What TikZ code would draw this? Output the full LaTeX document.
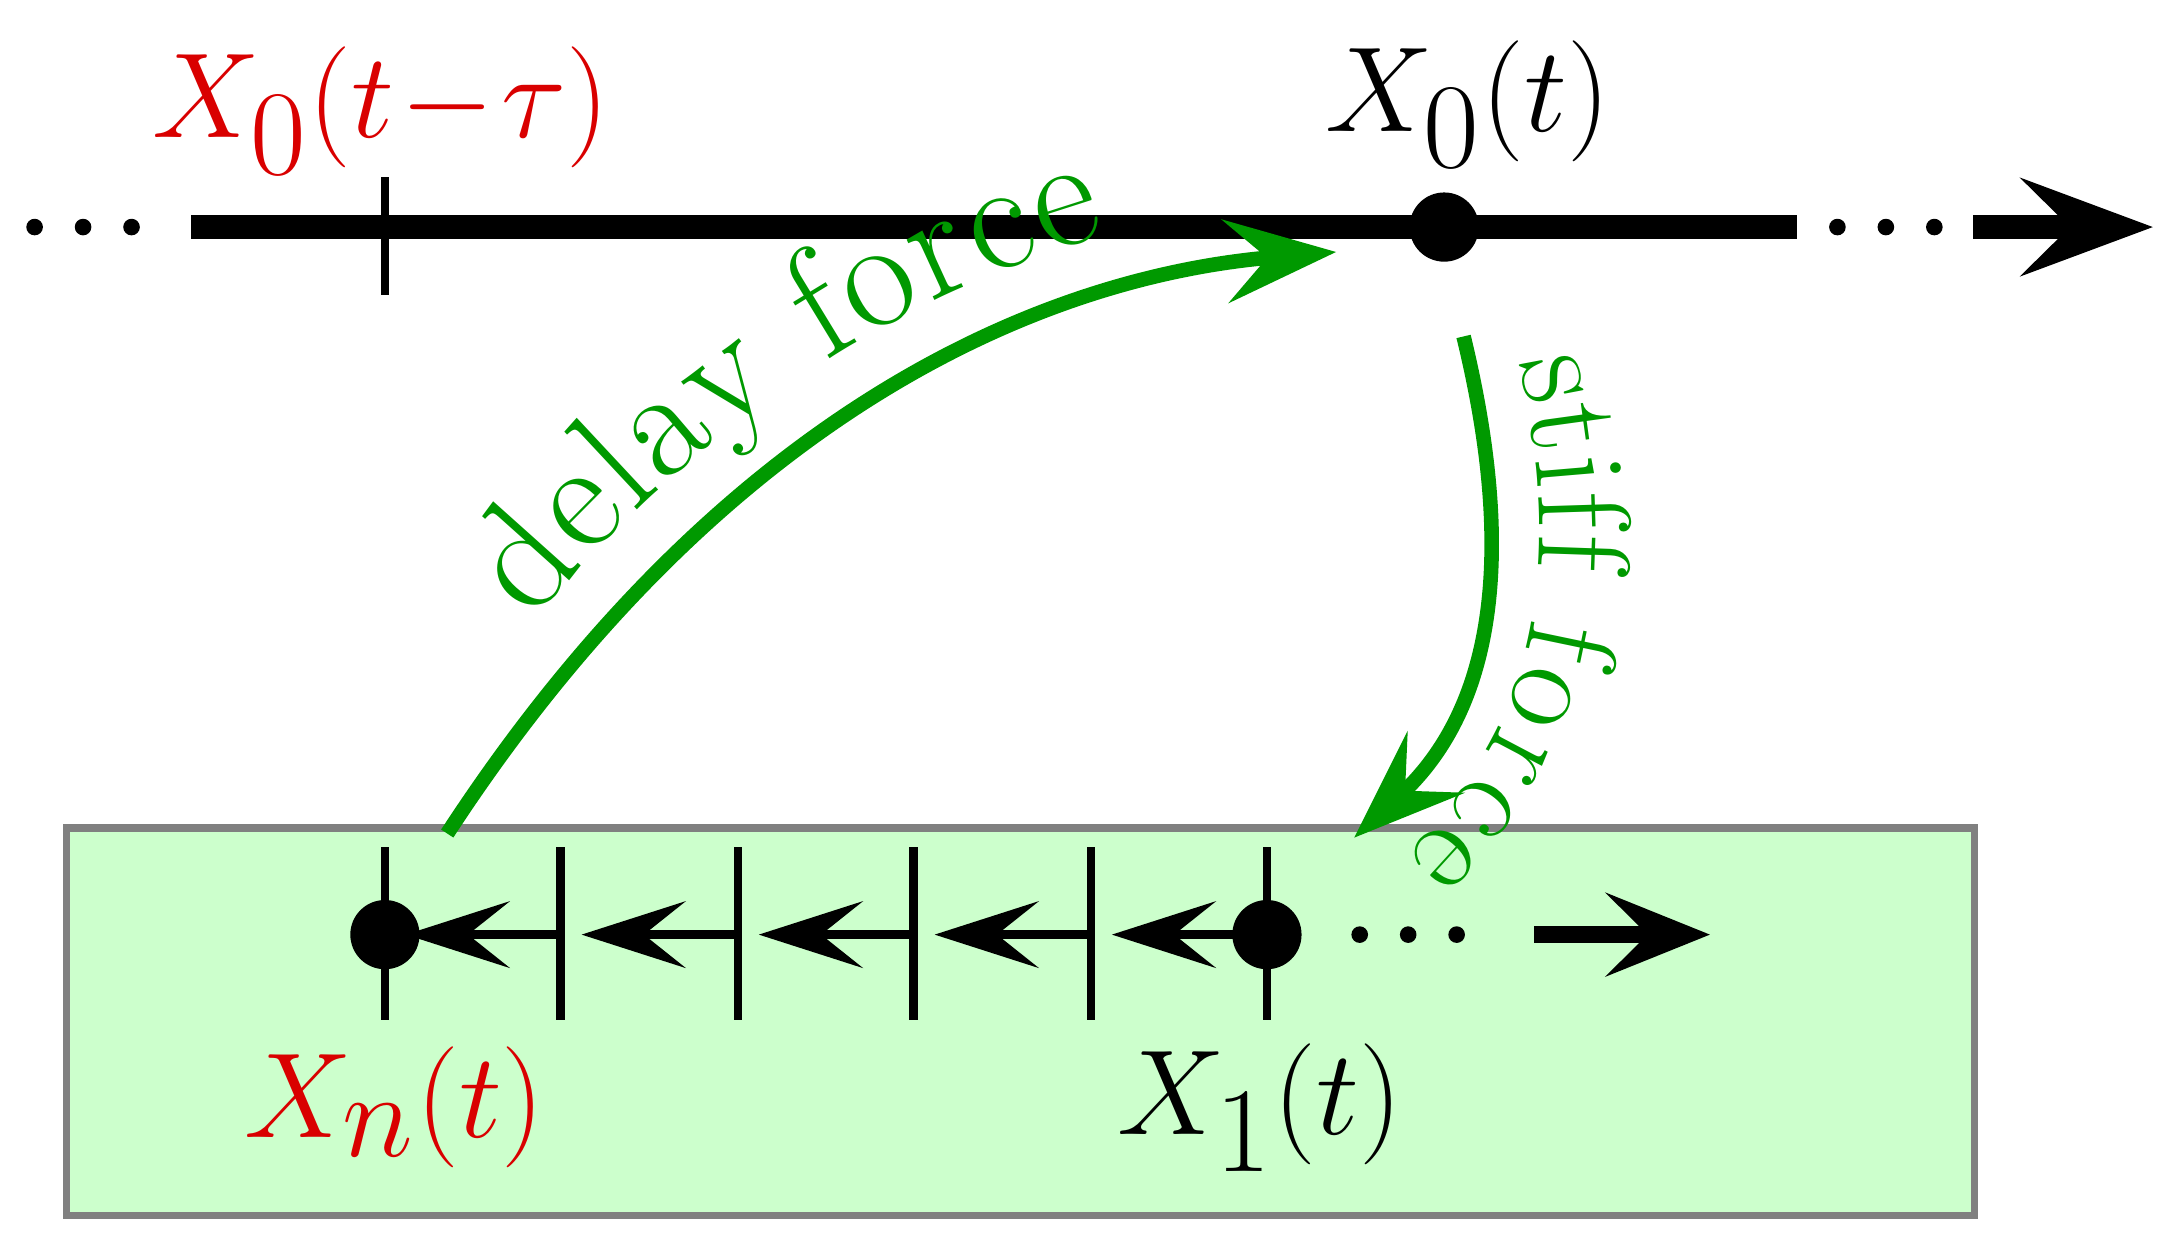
\documentclass[tikz,border=0pt]{standalone}
\usetikzlibrary{arrows.meta,decorations.text}
\definecolor{gr}{rgb}{0,0.6,0}
\definecolor{rd}{rgb}{0.85,0,0}
\definecolor{boxg}{rgb}{0.8,1,0.8}
\begin{document}
\begin{tikzpicture}[
  lbl/.style={font=\fontsize{37}{44}\selectfont},
  dotn/.style={circle,fill=black,inner sep=0pt,minimum size=0.5cm},
  sdot/.style={circle,fill=black,inner sep=0pt,minimum size=0.12cm},
  tick/.style={line width=1.8pt},
  garrow/.style={gr,line width=3pt,-{Stealth[length=8mm,width=6mm,inset=3mm]}},
  sarrow/.style={line width=2pt,-{Stealth[length=7.5mm,width=4.8mm,inset=3mm]}}]
\useasboundingbox (0,0) rectangle (15.6,8.95);
% top axis
\draw[line width=5pt] (1.38,7.31) -- (12.98,7.31);
\foreach \x [count=\i] in {0.25,0.60,0.95,13.27,13.62,13.97} \node[sdot] (td\i) at (\x,7.31) {};
\coordinate (ta) at (14.25,7.31); \coordinate (tb) at (15.55,7.31);
\draw[line width=5pt,-{Stealth[length=9.5mm,width=7mm,inset=3.5mm]}] (ta) -- (tb);
\coordinate (t1) at (2.78,7.67); \coordinate (t2) at (2.78,6.82);
\draw[tick] (t1) -- (t2);
\node[dotn] (x0) at (10.43,7.31) {};
\node[lbl,text=rd] (lx0tau) at (2.75,8.15) {$X_0(t\!-\!\tau)$};
\node[lbl] (lx0) at (10.6,8.2) {$X_0(t)$};
% box
\draw[gray,line width=1.5pt,fill=boxg] (0.48,0.17) rectangle (14.26,2.97);
% chain
\foreach \x [count=\i] in {2.78,4.05,5.33,6.60,7.88,9.15}{
  \coordinate (c\i) at (\x,2.20);
  \draw[tick] (\x,2.83) -- (\x,1.58);}
\foreach \i/\j in {2/1,3/2,4/3,5/4,6/5}
  \draw[sarrow] (c\i) -- ([xshift=0.15cm]c\j);
\node[dotn] (xn) at (c1) {};
\node[dotn] (x1) at (c6) {};
\foreach \x [count=\i] in {9.82,10.17,10.52} \node[sdot] (bd\i) at (\x,2.20) {};
\coordinate (ba) at (11.08,2.20); \coordinate (bb) at (12.35,2.20);
\draw[line width=3.5pt,-{Stealth[length=7.5mm,width=6mm,inset=3mm]}] (ba) -- (bb);
\node[lbl,text=rd] (lxn) at (2.85,0.95) {$X_n(t)$};
\node[lbl] (lx1) at (9.1,0.95) {$X_1(t)$};
% green arrows
\coordinate (ds) at (3.23,2.93); \coordinate (de) at (9.65,7.13);
\draw[garrow] (ds) .. controls (5.2,5.95) and (7.5,6.95) .. (de);
\path[decorate,decoration={text along path,text align=center,raise=12pt,
  text={|\fontsize{32}{36}\selectfont\color{gr}|delay force}}]
  (ds) .. controls (5.2,5.95) and (7.5,6.95) .. (de);
\coordinate (ss) at (10.57,6.52); \coordinate (se) at (9.78,2.90);
\draw[garrow] (ss) .. controls (11.0,4.75) and (10.7,3.75) .. (se);
\path[decorate,decoration={text along path,text align={left indent=0.25cm},raise=10pt,
  text={|\fontsize{27}{32}\selectfont\color{gr}|stiff force}}]
  (ss) .. controls (11.0,4.75) and (10.7,3.75) .. (se);
\end{tikzpicture}
\end{document}
